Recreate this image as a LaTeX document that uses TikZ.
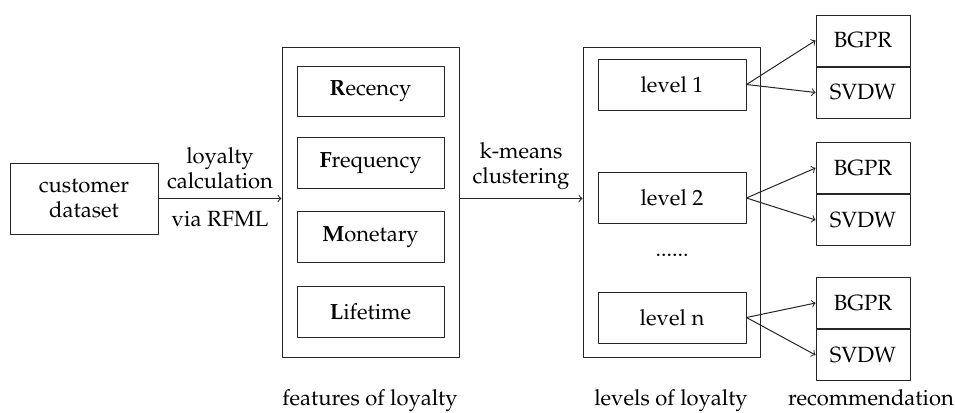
\documentclass[tikz,border=0pt]{standalone}
\usepackage[T1]{fontenc}
\usepackage{mathpazo}
\usetikzlibrary{positioning}
\begin{document}
\begin{tikzpicture}[x=.5pt, y=-.5pt, font=\fontsize{11}{12.5}\selectfont, line join=round, line cap=round, >=to,
		box/.style={draw=black!85, line width=.5pt, inner sep=0pt, align=center},
		featbox/.style={box, minimum width=73.5pt, minimum height=25.25pt},
		lvlbox/.style={box, minimum width=74pt, minimum height=25.5pt},
		recbox/.style={box, minimum width=47pt, minimum height=25.5pt},
		grpbox/.style={box, minimum width=88.5pt, minimum height=155pt},
		conn/.style={->, draw=black!85, line width=.5pt}]
	\useasboundingbox (0,0) rectangle (955,413);
	% input
	\node[box, minimum width=74pt, minimum height=35.5pt] (cust) at (84,198.5) {customer\\dataset};
	% features of loyalty
	\node[grpbox] (feat) at (370.5,202) {};
	\foreach \n/\y/\t in {rec/91.5/\textbf{R}ecency, frq/163/\textbf{F}requency, mon/237/\textbf{M}onetary, lif/312/\textbf{L}ifetime}
		\node[featbox] (\n) at (370.5,\y) {\t};
	% levels of loyalty
	\node[grpbox] (lev) at (671.5,202) {};
	\foreach \i/\y in {1/84.5, 2/198, n/317.5}
		\node[lvlbox] (l\i) at (672,\y) {level \i};
	\node (dots) at (672,255) {......};
	% recommendation
	\foreach \i/\y in {1/40.5, 2/168, n/303}{
		\node[recbox] (bg\i) at (863,\y) {BGPR};
		\node[recbox, below=0pt of bg\i] (sv\i) {SVDW};
		\draw[conn] (l\i.east) -- (bg\i.west);
		\draw[conn] (l\i.east) -- (sv\i.west);
	}
	\draw[conn] (cust.east) -- node[above=1pt, align=center]{loyalty\\calculation} node[below=3pt]{via RFML} (cust.east -| feat.west);
	\draw[conn] (feat.east |- cust.east) -- node[above=1pt, align=center]{k-means\\clustering} (lev.west |- cust.east);
	% captions
	\node[anchor=base] (capf) at (370,405) {features of loyalty};
	\node[anchor=base] (capl) at (671,405) {levels of loyalty};
	\node[anchor=base] (capr) at (871,405) {recommendation};
\end{tikzpicture}
\end{document}
